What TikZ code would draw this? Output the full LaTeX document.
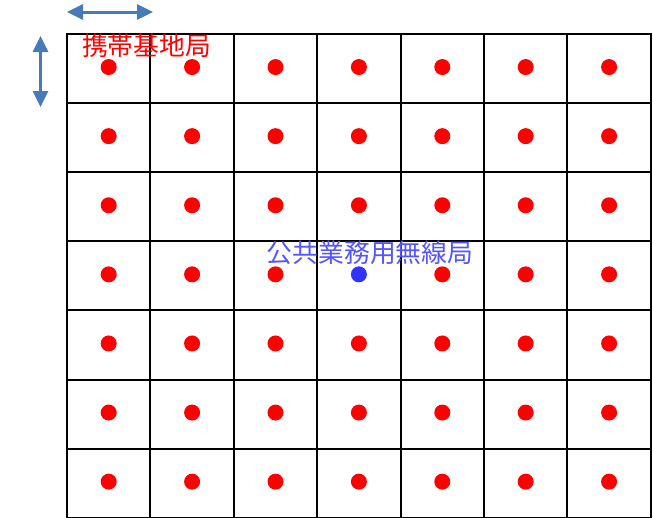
\documentclass[tikz,border=0pt]{standalone}
\usepackage{fontspec}
\newfontfamily\cjk{Noto Sans CJK JP}
\usetikzlibrary{arrows.meta}
\definecolor{arrowblue}{RGB}{70,122,184}
\definecolor{dotblue}{RGB}{50,50,255}
\definecolor{txtblue}{RGB}{85,85,255}
\tikzset{
  gridline/.style={line width=2pt, black},
  reddot/.style={circle, fill=red, inner sep=0pt, minimum size=16pt},
  bluedot/.style={circle, fill=dotblue, inner sep=0pt, minimum size=16pt},
  dimarrow/.style={line width=3pt, arrowblue, {Triangle[length=16pt,width=15pt]}-{Triangle[length=16pt,width=15pt]}},
  lbl/.style={inner sep=0pt, font=\cjk\fontsize{25.8pt}{27pt}\selectfont}
}
\begin{document}
\begin{tikzpicture}[x=1pt,y=-1pt]
\useasboundingbox (0,0) rectangle (653,517);
\begin{scope}
\clip (0,0) rectangle (653,517);
% grid
\foreach \i in {0,...,7} {
  \draw[gridline] ({67+83.4*\i},34) -- ({67+83.4*\i},520);
  \draw[gridline] (66,{34+69.1*\i}) -- (652,{34+69.1*\i});
}
\end{scope}
% dots
\foreach \i in {0,...,6} {
  \foreach \j in {0,...,6} {
    \pgfmathtruncatemacro{\isc}{(\i==3)&&(\j==3)}
    \ifnum\isc=1
      \node[bluedot] (d\i\j) at ({67+83.4*(\i+0.5)},{34+69.1*(\j+0.5)-1.5}) {};
    \else
      \node[reddot] (d\i\j) at ({67+83.4*(\i+0.5)},{34+69.1*(\j+0.5)-1.5}) {};
    \fi
  }
}
% labels
\node[lbl, text=red] (lmobile) at (146.5,46) {携帯基地局};
\node[lbl, text=txtblue] (lpublic) at (370,253) {公共業務用無線局};
% dimension arrows
\coordinate (hA) at (67,12);
\coordinate (hB) at (153,12);
\coordinate (vA) at (40.5,36);
\coordinate (vB) at (40.5,107);
\draw[dimarrow] (hA) -- (hB);
\draw[dimarrow] (vA) -- (vB);
\end{tikzpicture}
\end{document}
